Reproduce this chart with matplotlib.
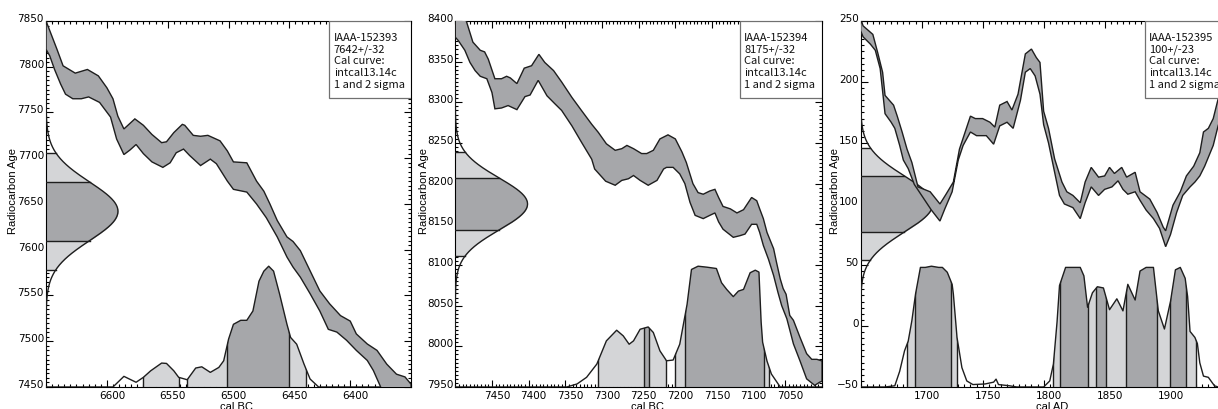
import numpy as np
import matplotlib
matplotlib.use("Agg")
import matplotlib.pyplot as plt
import matplotlib.transforms as mtransforms
from matplotlib.patches import Rectangle
from matplotlib.path import Path
from matplotlib.ticker import MultipleLocator

DARK = "#a6a7aa"
LIGHT = "#d4d5d7"
EDGE = "#1e1e1e"

# ---- panel 1: IAAA-152393 (cal BC)
p1_legend = ["IAAA-152393", "7642+/-32", "Cal curve:", "intcal13.14c", "1 and 2 sigma"]
p1_c14 = (7642, 32)
p1_xticks = [6600, 6550, 6500, 6450, 6400]
p1_yticks = [7450, 7500, 7550, 7600, 7650, 7700, 7750, 7800, 7850]
p1_up_x = [6650, 6641, 6636, 6626, 6616, 6607, 6600, 6595, 6591, 6586, 6577, 6570, 6563, 6555, 6551,
           6545, 6538, 6536, 6529, 6523, 6517, 6507, 6501, 6496, 6485, 6477, 6471, 6466, 6460, 6452,
           6447, 6441, 6433, 6425, 6417, 6408, 6400, 6395, 6386, 6378, 6370, 6362, 6355, 6350]
p1_up_y = [7850, 7819, 7801, 7793, 7797, 7790, 7777, 7765, 7746, 7732, 7743, 7736, 7726, 7717, 7718,
           7728, 7737, 7736, 7725, 7724, 7725, 7719, 7708, 7696, 7695, 7675, 7664, 7650, 7632, 7614,
           7609, 7599, 7577, 7555, 7541, 7528, 7522, 7508, 7497, 7490, 7475, 7464, 7461, 7453]
p1_lo_x = [6650, 6647, 6643, 6638, 6634, 6628, 6621, 6615, 6606, 6597, 6592, 6586, 6581, 6576, 6570,
           6563, 6554, 6548, 6543, 6537, 6532, 6523, 6515, 6510, 6501, 6496, 6485, 6477, 6469, 6460,
           6452, 6447, 6441, 6433, 6425, 6418, 6411, 6403, 6395, 6386, 6381, 6375, 6370, 6350]
p1_lo_y = [7819, 7812, 7797, 7781, 7770, 7765, 7765, 7767, 7761, 7745, 7721, 7704, 7709, 7715, 7705,
           7696, 7690, 7695, 7706, 7710, 7703, 7692, 7699, 7694, 7675, 7666, 7663, 7650, 7635, 7614,
           7592, 7581, 7570, 7552, 7533, 7513, 7510, 7501, 7490, 7479, 7468, 7450, 7431, 7410]
p1_dist_x = [6650, 6595, 6586, 6576, 6570, 6564, 6555, 6551, 6545, 6541, 6534, 6527, 6522, 6515, 6508,
             6504, 6500, 6496, 6490, 6485, 6480, 6475, 6471, 6467, 6463, 6458, 6452, 6449, 6444, 6438,
             6433, 6426, 6350]
p1_dist_p = [0, 0, 0.088, 0.039, 0.080, 0.134, 0.198, 0.195, 0.134, 0.080, 0.060, 0.157, 0.167, 0.121,
             0.162, 0.217, 0.396, 0.519, 0.552, 0.552, 0.629, 0.876, 0.959, 1.0, 0.959, 0.767, 0.519,
             0.410, 0.354, 0.190, 0.066, 0, 0]
p1_one_sigma = [(6501, 6450)]
p1_two_sigma = [(6570, 6541), (6534, 6436)]

# ---- panel 2: IAAA-152394 (cal BC)
p2_legend = ["IAAA-152394", "8175+/-32", "Cal curve:", "intcal13.14c", "1 and 2 sigma"]
p2_c14 = (8175, 32)
p2_xticks = [7450, 7400, 7350, 7300, 7250, 7200, 7150, 7100, 7050]
p2_yticks = [7950, 8000, 8050, 8100, 8150, 8200, 8250, 8300, 8350, 8400]
p2_up_x = [7500, 7485, 7476, 7466, 7460, 7455, 7446, 7437, 7430, 7425, 7416, 7406, 7396, 7386, 7378,
           7366, 7355, 7341, 7328, 7314, 7305, 7294, 7282, 7273, 7266, 7257, 7246, 7239, 7230, 7221,
           7210, 7200, 7191, 7185, 7176, 7169, 7162, 7153, 7146, 7141, 7135, 7125, 7116, 7107, 7096,
           7089, 7085, 7080, 7075, 7066, 7062, 7057, 7053, 7049, 7044, 7039, 7030, 7021, 7014, 7007, 7000]
p2_up_y = [8420, 8400, 8374, 8364, 8362, 8353, 8329, 8329, 8332, 8330, 8323, 8342, 8345, 8359, 8349,
           8339, 8325, 8306, 8290, 8273, 8263, 8249, 8241, 8243, 8247, 8243, 8237, 8237, 8241, 8255,
           8260, 8255, 8239, 8226, 8200, 8189, 8187, 8191, 8193, 8183, 8172, 8169, 8164, 8168, 8183,
           8179, 8169, 8157, 8140, 8120, 8103, 8083, 8071, 8064, 8038, 8032, 8011, 7991, 7984, 7984, 7982]
p2_lo_x = [7500, 7496, 7487, 7480, 7473, 7466, 7457, 7450, 7446, 7437, 7428, 7416, 7405, 7398, 7387,
           7375, 7364, 7355, 7341, 7328, 7314, 7310, 7295, 7282, 7273, 7264, 7257, 7248, 7237, 7225,
           7216, 7212, 7203, 7194, 7187, 7180, 7173, 7162, 7153, 7146, 7141, 7135, 7121, 7112, 7105,
           7096, 7089, 7085, 7080, 7073, 7066, 7060, 7055, 7048, 7039, 7030, 7021, 7010, 7003, 7000]
p2_lo_y = [8380, 8376, 8364, 8349, 8339, 8332, 8329, 8312, 8292, 8293, 8296, 8291, 8307, 8309, 8327,
           8308, 8298, 8290, 8271, 8251, 8230, 8218, 8203, 8198, 8204, 8206, 8210, 8204, 8198, 8204,
           8218, 8220, 8220, 8212, 8200, 8177, 8161, 8157, 8161, 8164, 8153, 8144, 8134, 8136, 8138,
           8150, 8150, 8140, 8124, 8107, 8087, 8066, 8050, 8034, 8003, 7982, 7960, 7952, 7956, 7957]
p2_dist_x = [7500, 7348, 7334, 7321, 7307, 7294, 7280, 7271, 7263, 7257, 7248, 7237, 7230, 7221, 7212,
             7203, 7194, 7184, 7178, 7169, 7157, 7144, 7137, 7130, 7121, 7114, 7107, 7098, 7091, 7086,
             7083, 7081, 7075, 7069, 7057, 7000]
p2_dist_p = [0, 0, 0.025, 0.08, 0.19, 0.382, 0.47, 0.423, 0.354, 0.382, 0.478, 0.497, 0.451, 0.299,
             0.217, 0.223, 0.354, 0.684, 0.973, 1.0, 0.992, 0.981, 0.863, 0.808, 0.748, 0.794, 0.808,
             0.946, 0.967, 0.951, 0.536, 0.371, 0.214, 0.107, 0, 0]
p2_one_sigma = [(7243, 7236), (7187, 7079)]
p2_two_sigma = [(7306, 7213), (7201, 7072)]

# ---- panel 3: IAAA-152395 (cal AD)
p3_legend = ["IAAA-152395", "100+/-23", "Cal curve:", "intcal13.14c", "1 and 2 sigma"]
p3_c14 = (100, 23)
p3_xticks = [1700, 1750, 1800, 1850, 1900]
p3_yticks = [-50, 0, 50, 100, 150, 200, 250]
p3_up_x = [1650, 1652, 1660, 1664, 1668, 1670, 1677, 1680, 1684, 1688, 1692, 1697, 1707, 1715, 1720,
           1726, 1731, 1740, 1744, 1750, 1756, 1760, 1764, 1770, 1774, 1779, 1785, 1790, 1794, 1797,
           1800, 1804, 1809, 1815, 1819, 1824, 1830, 1834, 1839, 1845, 1850, 1854, 1858, 1864, 1868,
           1875, 1879, 1887, 1893, 1898, 1900, 1906, 1912, 1917, 1923, 1928, 1931, 1935, 1939, 1943, 1950]
p3_up_y = [252, 246, 239, 224, 208, 189, 181, 172, 159, 145, 134, 114, 110, 100, 108,
           118, 145, 172, 170, 170, 167, 163, 181, 184, 177, 190, 223, 227, 220, 216,
           176, 162, 137, 118, 110, 107, 101, 118, 130, 122, 123, 130, 125, 130, 122,
           126, 110, 104, 93, 81, 78, 99, 110, 123, 131, 142, 159, 162, 170, 186, 205]
p3_lo_x = [1650, 1652, 1658, 1662, 1666, 1670, 1675, 1678, 1682, 1685, 1689, 1694, 1708, 1715, 1719,
           1725, 1730, 1734, 1740, 1745, 1753, 1759, 1764, 1770, 1775, 1781, 1785, 1789, 1793, 1797,
           1800, 1804, 1809, 1813, 1817, 1824, 1830, 1834, 1839, 1845, 1850, 1856, 1861, 1865, 1869,
           1875, 1879, 1884, 1890, 1895, 1900, 1904, 1909, 1914, 1920, 1924, 1928, 1932, 1939, 1943, 1950]
p3_lo_y = [242, 237, 231, 226, 211, 174, 167, 162, 148, 136, 129, 116, 95, 86, 96,
           110, 136, 148, 159, 156, 156, 149, 164, 167, 162, 185, 208, 211, 205, 190,
           165, 150, 126, 107, 100, 97, 88, 101, 114, 107, 112, 114, 119, 112, 108,
           110, 103, 95, 88, 80, 65, 75, 93, 107, 114, 118, 123, 131, 148, 164, 185]
p3_dist_x = [1650, 1670, 1678, 1682, 1686, 1689, 1692, 1695, 1699, 1703, 1708, 1714, 1717, 1721, 1725,
             1726, 1729, 1733, 1737, 1742, 1752, 1759, 1761, 1763, 1772, 1778, 1800, 1805, 1808, 1811,
             1813, 1818, 1824, 1830, 1833, 1836, 1840, 1844, 1849, 1854, 1860, 1865, 1869, 1875, 1879,
             1884, 1890, 1894, 1899, 1904, 1908, 1912, 1916, 1918, 1920, 1924, 1926, 1928, 1931, 1935,
             1940, 1943, 1950]
p3_dist_p = [0, 0, 0.01, 0.13, 0.30, 0.38, 0.55, 0.77, 0.99, 0.99, 1.0, 0.99, 0.99, 0.95, 0.85,
             0.77, 0.41, 0.16, 0.05, 0.02, 0.025, 0.04, 0.065, 0.02, 0.01, 0, 0, 0.05, 0.19, 0.54,
             0.84, 0.99, 0.99, 0.99, 0.92, 0.66, 0.78, 0.83, 0.82, 0.64, 0.73, 0.63, 0.85, 0.72, 0.96,
             0.99, 0.99, 0.63, 0.48, 0.71, 0.97, 0.99, 0.90, 0.75, 0.46, 0.41, 0.36, 0.20, 0.09, 0.08,
             0.01, 0, 0]
p3_one_sigma = [(1694.5, 1724), (1813, 1836.6), (1842.6, 1851), (1867.5, 1893), (1903.5, 1916.6)]
p3_two_sigma = [(1688, 1729), (1808, 1925)]


def draw_panel(ax, xlim, ylim, c14, up_x, up_y, lo_x, lo_y, dist_x, dist_p, one, two,
               legend, xticks, yticks, xlabel, ylab_x):
    x0, x1 = xlim
    y0, y1 = ylim
    ax.set_xlim(x0, x1)
    ax.set_ylim(y0, y1)

    # measured radiocarbon age, drawn against the y axis
    mu, sd = c14
    amp = 0.197 * (x1 - x0)

    def gx(y):
        return x0 + amp * np.exp(-0.5 * ((y - mu) / sd) ** 2)

    for k, col in ((2, LIGHT), (1, DARK)):
        yy = np.linspace(mu - k * sd, mu + k * sd, 300)
        ax.fill_betweenx(yy, x0, gx(yy), color=col, lw=0, zorder=2)
        for yb in (mu - k * sd, mu + k * sd):
            ax.plot([x0, gx(yb)], [yb, yb], color=EDGE, lw=1, zorder=3)
    yy = np.linspace(mu - 5 * sd, mu + 5 * sd, 500)
    ax.plot(gx(yy), yy, color=EDGE, lw=1, zorder=3)

    # calibrated distribution along the x axis
    h = 0.33 * (y1 - y0)
    dx = np.asarray(dist_x, float)
    dy = y0 + np.asarray(dist_p, float) * h
    clip = Path(np.column_stack([np.r_[dx[0], dx, dx[-1]], np.r_[y0, dy, y0]]))
    for ranges, col in ((two, LIGHT), (one, DARK)):
        for a, b in ranges:
            sp = ax.axvspan(a, b, color=col, lw=0, zorder=2)
            sp.set_clip_path(clip, ax.transData)
    for a, b in two + one:
        for v in (a, b):
            ln = ax.axvline(v, color=EDGE, lw=1, zorder=3)
            ln.set_clip_path(clip, ax.transData)
    ax.plot(dx, dy, color=EDGE, lw=1, zorder=3)

    # calibration curve band
    ax.fill(np.r_[up_x, lo_x[::-1]], np.r_[up_y, lo_y[::-1]],
            facecolor=DARK, edgecolor=EDGE, lw=1, zorder=4)

    # legend box
    bw, bh = 0.224, 0.211
    ax.add_patch(Rectangle((1 - bw, 1 - bh), bw, bh, transform=ax.transAxes,
                           facecolor="white", edgecolor="#707070", lw=0.9, zorder=10))
    for i, line in enumerate(legend):
        ax.text(1 - bw + 0.012, 1 - (16 + 11.7 * i) / 366, line, transform=ax.transAxes,
                fontsize=8, family=["Noto Sans CJK JP", "DejaVu Sans"],
                ha="left", va="center", color="#111111", zorder=11)

    ax.set_xticks(xticks)
    ax.set_yticks(yticks)
    ax.xaxis.set_minor_locator(MultipleLocator(5))
    ax.yaxis.set_minor_locator(MultipleLocator(5))
    ax.tick_params(which="both", direction="in", top=True, right=True, width=0.8, colors="black")
    ax.tick_params(which="major", length=5)
    ax.tick_params(which="minor", length=2)
    ax.tick_params(axis="y", pad=1.5, labelsize=7.5)
    ax.tick_params(axis="x", pad=2.5, labelsize=7.5)
    for s in ax.spines.values():
        s.set_linewidth(0.8)

    off = mtransforms.ScaledTranslation(5 / 100, 0, fig.dpi_scale_trans)
    for lab in ax.get_xticklabels():
        lab.set_transform(lab.get_transform() + off)
    for lab in ax.get_yticklabels():
        lab.set_verticalalignment("baseline")

    ax.set_xlabel(xlabel, fontsize=8, family="Liberation Sans")
    ax.xaxis.set_label_coords(0.523, -0.037)
    ax.set_ylabel("Radiocarbon Age", fontsize=8, family="Liberation Sans")
    ax.yaxis.set_label_coords(ylab_x, 0.538)


fig = plt.figure(figsize=(12.18, 4.10), dpi=100)
ax1 = fig.add_axes([0.0378, 0.0537, 0.2997, 0.8927])
ax2 = fig.add_axes([0.3738, 0.0537, 0.3011, 0.8927])
ax3 = fig.add_axes([0.7066, 0.0537, 0.3005, 0.8927])

draw_panel(ax1, (6650, 6350), (7450, 7850), p1_c14, p1_up_x, p1_up_y, p1_lo_x, p1_lo_y,
           p1_dist_x, p1_dist_p, p1_one_sigma, p1_two_sigma, p1_legend, p1_xticks, p1_yticks,
           "cal BC", -0.078)
draw_panel(ax2, (7500, 7000), (7950, 8400), p2_c14, p2_up_x, p2_up_y, p2_lo_x, p2_lo_y,
           p2_dist_x, p2_dist_p, p2_one_sigma, p2_two_sigma, p2_legend, p2_xticks, p2_yticks,
           "cal BC", -0.072)
draw_panel(ax3, (1650, 1950), (-50, 250), p3_c14, p3_up_x, p3_up_y, p3_lo_x, p3_lo_y,
           p3_dist_x, p3_dist_p, p3_one_sigma, p3_two_sigma, p3_legend, p3_xticks, p3_yticks,
           "cal AD", -0.057)

fig.savefig("out.png", dpi=100)
